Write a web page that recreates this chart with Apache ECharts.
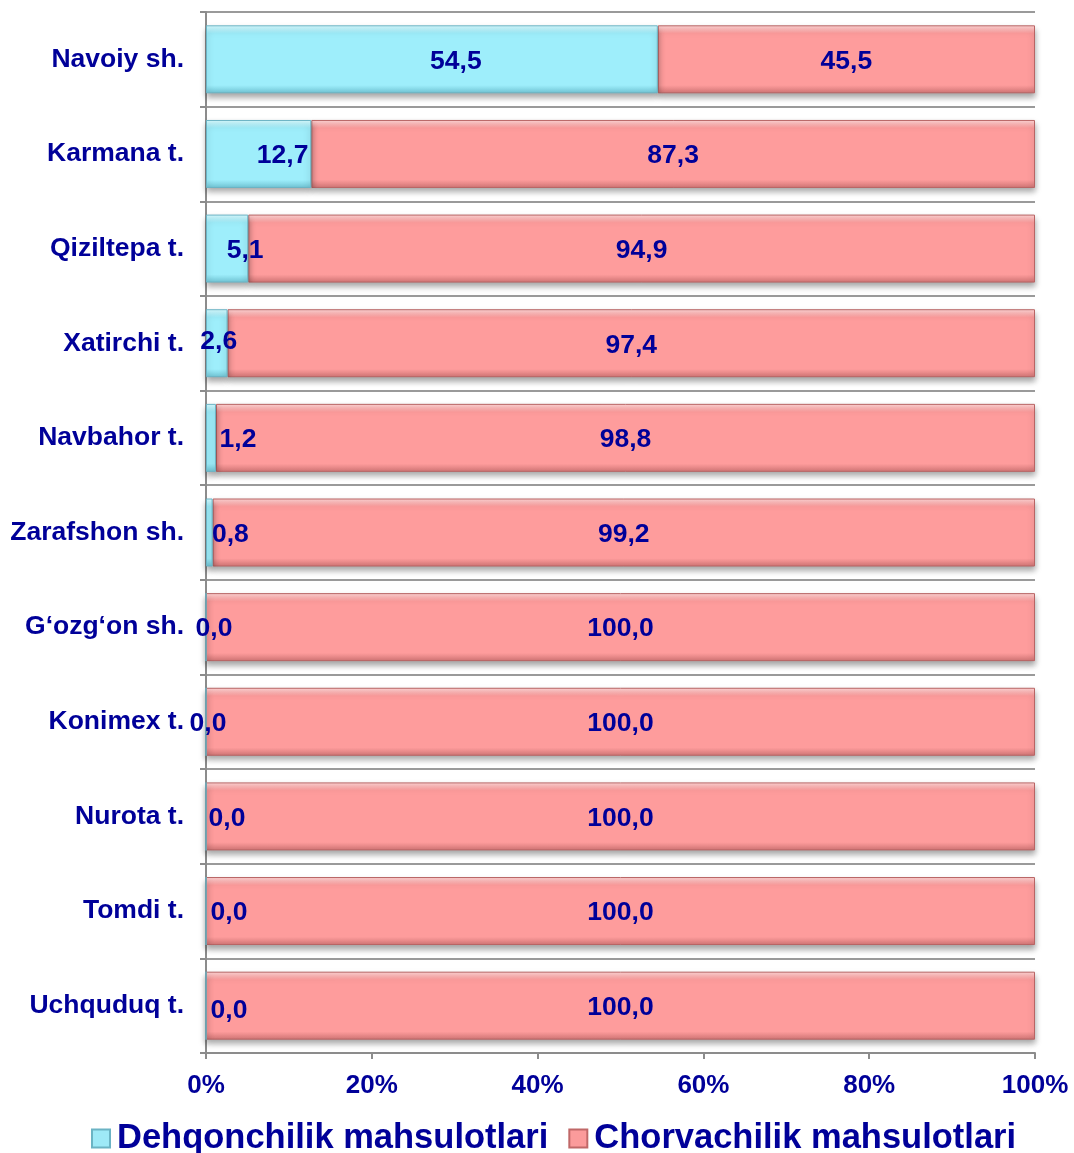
<!DOCTYPE html>
<html>
<head>
<meta charset="utf-8">
<script src="https://cdn.jsdelivr.net/npm/echarts@6/dist/echarts.min.js"></script>
<style>
  html, body { margin: 0; padding: 0; background: #fff; }
  #chart { width: 1074px; height: 1153px; }
</style>
</head>
<body>
<div id="chart"></div>
<script>
const regions = ['Navoiy sh.', 'Karmana t.', 'Qiziltepa t.', 'Xatirchi t.', 'Navbahor t.', 'Zarafshon sh.',
  'G\u2018ozg\u2018on sh.', 'Konimex t.', 'Nurota t.', 'Tomdi t.', 'Uchquduq t.']
const dehqonchilik = [54.5, 12.7, 5.1, 2.6, 1.2, 0.8, 0.0, 0.0, 0.0, 0.0, 0.0]
const chorvachilik = [45.5, 87.3, 94.9, 97.4, 98.8, 99.2, 100.0, 100.0, 100.0, 100.0, 100.0]
const xTicks = [0, 20, 40, 60, 80, 100]

// label nudges, to match the hand placed labels of the original
const dehqonLabelShift = [[24, 2], [24, 2], [18, 2], [2, -2], [27, 2], [21, 2], [8, 2], [2, 2], [21, 2], [23, 2], [23, 5]]

const navy = '#000099'
const fmt = v => v.toFixed(1).replace('.', ',')

function barStyle (light, main, dark, border) {
  return {
    color: new echarts.graphic.LinearGradient(0, 0, 0, 1, [
      { offset: 0, color: light },
      { offset: 0.12, color: main },
      { offset: 0.88, color: main },
      { offset: 1, color: dark }
    ]),
    borderColor: border,
    borderWidth: 1,
    shadowColor: 'rgba(0,0,0,0.35)',
    shadowBlur: 6,
    shadowOffsetY: 4
  }
}

const labelFont = { color: navy, fontFamily: 'Liberation Sans, Arial', fontWeight: 'bold', fontSize: 26.5 }

let option = {
  animation: false,
  grid: { left: 206, right: 39, top: 12, bottom: 100 },
  legend: {
    top: 1116,
    left: 86,
    itemWidth: 18,
    itemHeight: 18,
    itemGap: 20,
    textStyle: { color: navy, fontFamily: 'Liberation Sans, Arial', fontWeight: 'bold', fontSize: 34.5, padding: [0, 0, 0, 2] },
    data: [
      { name: 'Dehqonchilik mahsulotlari', icon: 'rect', itemStyle: { color: '#9ee9f7', borderColor: '#6bb3c4', shadowBlur: 0 } },
      { name: 'Chorvachilik mahsulotlari', icon: 'rect', itemStyle: { color: '#fb9b9b', borderColor: '#c06868', shadowBlur: 0 } }
    ]
  },
  xAxis: {
    type: 'value',
    min: 0,
    max: 100,
    interval: 20,
    axisLine: { show: true, lineStyle: { color: '#8c8c8c', width: 2 } },
    axisTick: { show: true, length: 6, lineStyle: { color: '#8c8c8c', width: 2 } },
    splitLine: { show: false },
    axisLabel: {
      margin: 20,
      formatter: v => xTicks.indexOf(v) >= 0 ? v + '%' : '',
      color: navy, fontFamily: 'Liberation Sans, Arial', fontWeight: 'bold', fontSize: 26
    }
  },
  yAxis: {
    type: 'category',
    inverse: true,
    data: regions,
    axisLine: { show: true, lineStyle: { color: '#8c8c8c', width: 2 } },
    axisTick: { show: true, length: 6, lineStyle: { color: '#8c8c8c', width: 2 } },
    splitLine: { show: true, lineStyle: { color: '#9a9a9a', width: 2 } },
    axisLabel: { margin: 22, verticalAlign: 'middle', padding: [6, 0, 0, 0], ...labelFont }
  },
  series: [
    {
      name: 'Dehqonchilik mahsulotlari',
      type: 'bar',
      stack: 'total',
      barWidth: 68,
      itemStyle: barStyle('#d8fbff', '#9eeefb', '#6fc3d3', '#6bb3c4'),
      data: dehqonchilik.map((v, i) => ({
        value: v,
        label: { offset: dehqonLabelShift[i] }
      })),
      label: {
        show: true,
        position: 'inside',
        formatter: p => fmt(p.value),
        ...labelFont
      },
      z: 3
    },
    {
      name: 'Chorvachilik mahsulotlari',
      type: 'bar',
      stack: 'total',
      barWidth: 68,
      itemStyle: barStyle('#ffd6d6', '#fe9c9c', '#cf7474', '#b86464'),
      data: chorvachilik,
      label: {
        show: true,
        position: 'inside',
        offset: [0, 2],
        formatter: p => fmt(p.value),
        ...labelFont
      },
      z: 2
    }
  ]
}

let chart = echarts.init(document.getElementById('chart'))
chart.setOption(option)
window.onresize = function () {
  chart.resize()
}
</script>
</body>
</html>
